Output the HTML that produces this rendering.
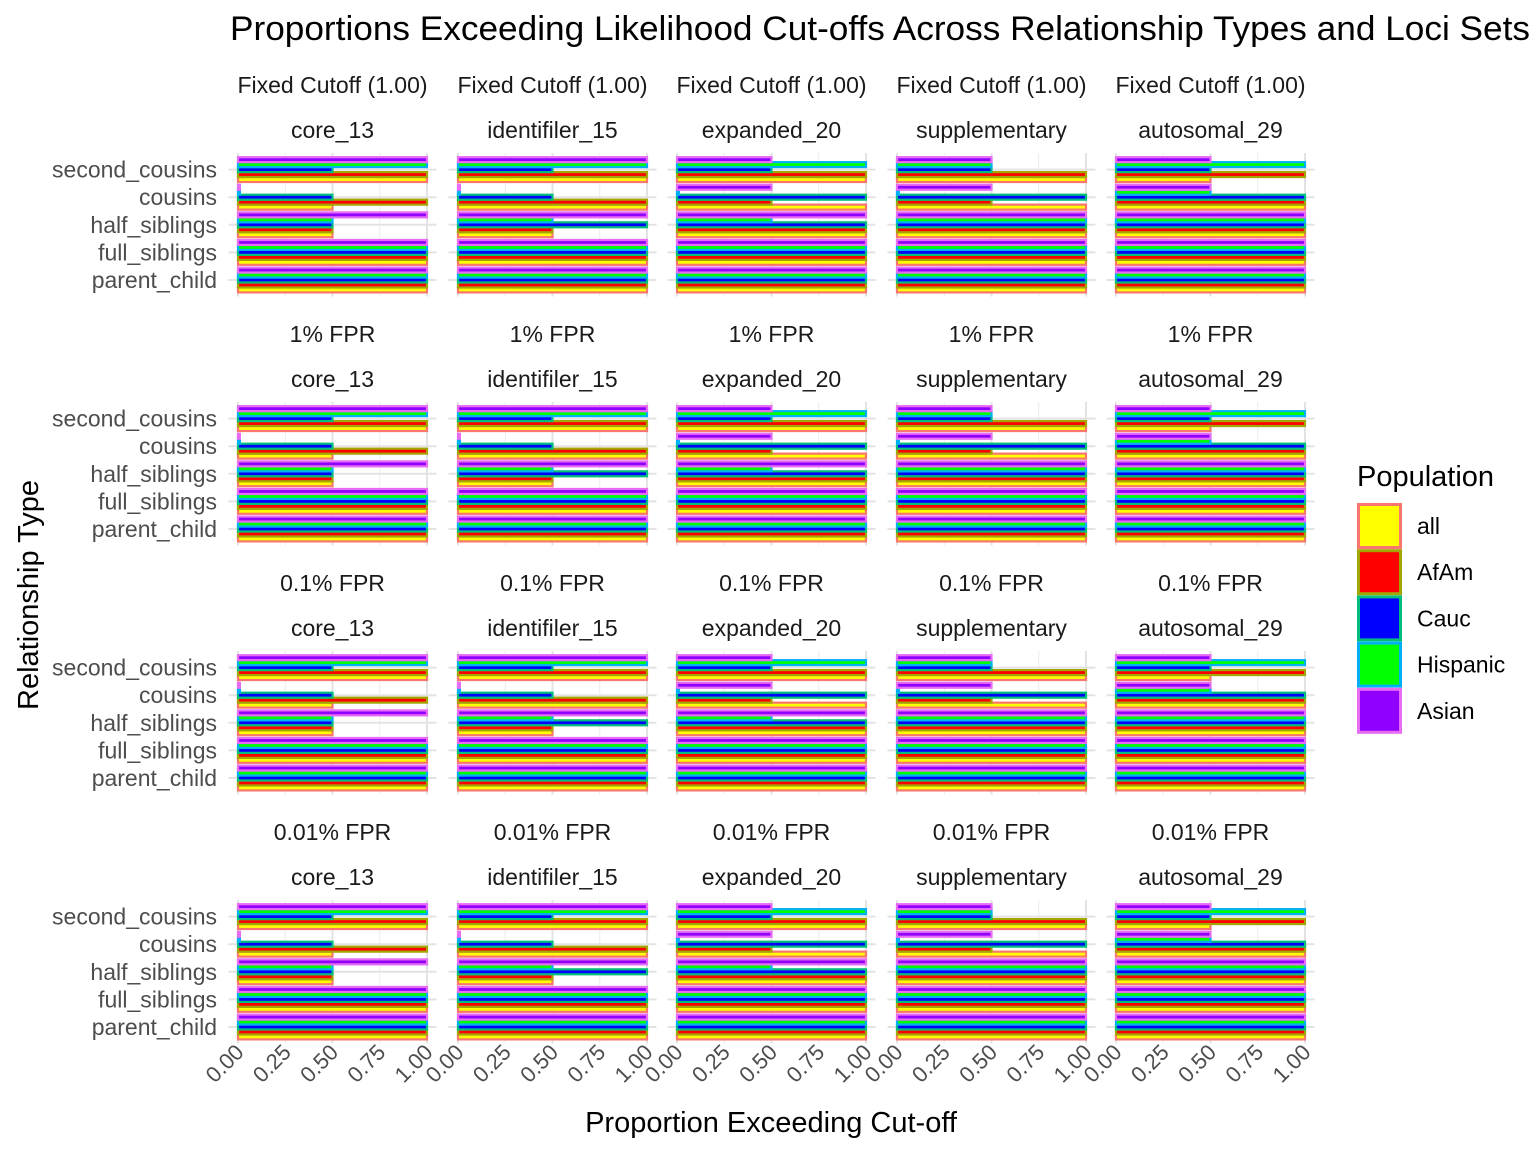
<!DOCTYPE html>
<html><head><meta charset="utf-8"><style>
body{margin:0;background:#fff;}
svg{display:block;font-family:"Liberation Sans",sans-serif;}
</style></head><body>
<svg id="chart" width="1536" height="1152" viewBox="0 0 1536 1152">
<text x="230" y="40" font-size="34.5" fill="#000" textLength="1300" lengthAdjust="spacingAndGlyphs">Proportions Exceeding Likelihood Cut-offs Across Relationship Types and Loci Sets</text>
<text x="771" y="1132" font-size="29" fill="#000" text-anchor="middle">Proportion Exceeding Cut-off</text>
<text transform="translate(38,595) rotate(-90)" font-size="29" fill="#000" text-anchor="middle">Relationship Type</text>
<g id="plots"></g>
<g id="legend"></g>
</svg>
<script>
const cutoffs = ["Fixed Cutoff (1.00)", "1% FPR", "0.1% FPR", "0.01% FPR"];
const lociSets = ["core_13", "identifiler_15", "expanded_20", "supplementary", "autosomal_29"];
const relTypes = ["parent_child", "full_siblings", "half_siblings", "cousins", "second_cousins"];
const populations = ["all", "AfAm", "Cauc", "Hispanic", "Asian"];
const xTicks = [0, 0.25, 0.5, 0.75, 1];
const xTickLabels = ["0.00", "0.25", "0.50", "0.75", "1.00"];
// values[loci][relType][population]
const core13 = [[1,1,1,1,1],[1,1,1,1,1],[0.5,0.5,0.5,0.5,1],[0.5,1,0.5,0.01,0.01],[1,1,0.5,1,1]];
const identifiler15 = [[1,1,1,1,1],[1,1,1,1,1],[0.5,0.5,1,0.5,1],[1,1,0.5,0.01,0.01],[1,1,0.5,1,1]];
const expanded20 = [[1,1,1,1,1],[1,1,1,1,1],[1,1,1,0.5,1],[1,0.5,1,0.01,0.5],[1,1,0.5,1,0.5]];
const supplementary = [[1,1,1,1,1],[1,1,1,1,1],[1,1,1,1,1],[1,0.5,1,0.01,0.5],[1,1,0.5,0.5,0.5]];
const autosomal29 = [[1,1,1,1,1],[1,1,1,1,1],[1,1,1,1,1],[1,1,1,0.5,0.5],[0.5,1,0.5,1,0.5]];
const panelValues = [core13, identifiler15, expanded20, supplementary, autosomal29];

const fills = ["#FFFF00","#FF0000","#0000FF","#00FF00","#8F00FF"];
const strokes = ["#F8766D","#A3A500","#00BF7D","#00B0F6","#E76BF3"];
const NS = "http://www.w3.org/2000/svg";
function mk(tag, attrs, parent){const e=document.createElementNS(NS,tag);for(const k in attrs)e.setAttribute(k,attrs[k]);parent.appendChild(e);return e;}
const plots=document.getElementById('plots');
const colX0=[238,458,677,897,1116], pw=189;
const rowBase=[280,529,778,1027], step=27.6;
for(let r=0;r<cutoffs.length;r++){
  for(let c=0;c<lociSets.length;c++){
    const g=mk('g',{},plots);
    
    
    const x=v=>colX0[c]+v*pw;
    const yc=i=>rowBase[r]-i*step;
    const top=yc(4)-step*0.6, bot=yc(0)+step*0.6;
    [0.25,0.75].forEach(v=>{const l=mk('line',{x1:x(v),x2:x(v),y1:top,y2:bot,stroke:'#ebebeb','stroke-width':1},g);});
    [0,0.5,1].forEach(v=>{const l=mk('line',{x1:x(v),x2:x(v),y1:top,y2:bot,stroke:'#e3e3e3','stroke-width':2},g);});
    for(let i=0;i<5;i++){const l=mk('line',{x1:x(0)-9.5,x2:x(1)+9.5,y1:yc(i),y2:yc(i),stroke:'#e3e3e3','stroke-width':2},g);}
    const bw=step*0.9/5;
    for(let i=0;i<5;i++){
      for(let p=0;p<5;p++){
        const v=panelValues[c][i][p];
        const y0=yc(i)+step*0.45-(p+1)*bw;
        const b=mk('rect',{x:x(0),y:y0,width:Math.max(v*pw,0.5),height:bw,fill:fills[p],stroke:strokes[p],'stroke-width':2.2},g);
        
        
      }
    }
    const cx=colX0[c]+pw/2;
    const s1=mk('text',{x:cx,y:rowBase[r]-187,'font-size':23,'text-anchor':'middle',fill:'#1a1a1a'},g);s1.textContent=cutoffs[r];
    
    
    const s2=mk('text',{x:cx,y:rowBase[r]-142,'font-size':23,'text-anchor':'middle',fill:'#1a1a1a'},g);s2.textContent=lociSets[c];
    
    
    if(c===0){
      for(let i=0;i<5;i++){const t=mk('text',{x:217,y:yc(i)+8,'font-size':23,'text-anchor':'end',fill:'#4d4d4d'},g);t.textContent=relTypes[i];
        
        }
    }
    if(r===cutoffs.length-1){
      xTicks.forEach((v,k)=>{const t=mk('text',{transform:`translate(${x(v)+7},${bot+10}) rotate(-45)`,'font-size':22,'text-anchor':'end',fill:'#4d4d4d'},g);t.textContent=xTickLabels[k];
        
        });
    }
  }
}
const lg=document.getElementById('legend');
const lt=mk('text',{x:1357,y:486,'font-size':29,fill:'#000'},lg);lt.textContent='Population';


populations.forEach((p,k)=>{
  const y=503+k*46.2;
  const r=mk('rect',{x:1358.5,y:y+1.5,width:42,height:43,fill:fills[k],stroke:strokes[k],'stroke-width':3},lg);
  
  
  const t=mk('text',{x:1417,y:y+31,'font-size':23,fill:'#000'},lg);t.textContent=p;
  
  
});
</script>
</body></html>
